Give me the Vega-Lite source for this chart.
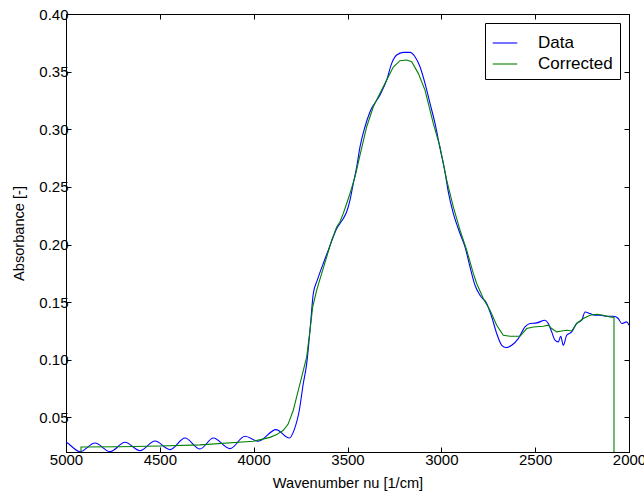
{
  "$schema": "https://vega.github.io/schema/vega-lite/v6.json",
  "width": 563,
  "height": 438,
  "autosize": {"type": "none"},
  "padding": {"left": 66, "top": 14, "right": 15, "bottom": 41},
  "background": "white",
  "config": {
    "font": "Liberation Sans",
    "view": {"stroke": "black", "strokeWidth": 1},
    "axis": {
      "grid": false,
      "domainColor": "black",
      "tickColor": "black",
      "labelColor": "black",
      "titleColor": "black",
      "labelFont": "Liberation Sans",
      "titleFont": "Liberation Sans",
      "labelFontSize": 15,
      "titleFontSize": 14.6,
      "titleFontWeight": "normal",
      "tickSize": -5,
      "labelFlush": false,
      "labelOverlap": false
    },
    "legend": {
      "labelFont": "Liberation Sans",
      "labelFontSize": 17,
      "labelColor": "black"
    }
  },
  "datasets": {
    "blue": [
      {"nu": 5000, "a": 0.0285, "s": "Data"},
      {"nu": 4996.3, "a": 0.0282, "s": "Data"},
      {"nu": 4925.4, "a": 0.0203, "s": "Data"},
      {"nu": 4845.5, "a": 0.0278, "s": "Data"},
      {"nu": 4765.5, "a": 0.0203, "s": "Data"},
      {"nu": 4685.6, "a": 0.0284, "s": "Data"},
      {"nu": 4605.7, "a": 0.0212, "s": "Data"},
      {"nu": 4525.8, "a": 0.0295, "s": "Data"},
      {"nu": 4445.8, "a": 0.0221, "s": "Data"},
      {"nu": 4365.9, "a": 0.0321, "s": "Data"},
      {"nu": 4286.0, "a": 0.0226, "s": "Data"},
      {"nu": 4215.1, "a": 0.0321, "s": "Data"},
      {"nu": 4126.1, "a": 0.0229, "s": "Data"},
      {"nu": 4046.2, "a": 0.0336, "s": "Data"},
      {"nu": 3975.3, "a": 0.0293, "s": "Data"},
      {"nu": 3881.0, "a": 0.0394, "s": "Data"},
      {"nu": 3810.1, "a": 0.0321, "s": "Data"},
      {"nu": 3785.1, "a": 0.0388, "s": "Data"},
      {"nu": 3756.8, "a": 0.0562, "s": "Data"},
      {"nu": 3735.5, "a": 0.0794, "s": "Data"},
      {"nu": 3717.4, "a": 0.0967, "s": "Data"},
      {"nu": 3699.8, "a": 0.1256, "s": "Data"},
      {"nu": 3682.2, "a": 0.1575, "s": "Data"},
      {"nu": 3660.9, "a": 0.1691, "s": "Data"},
      {"nu": 3628.9, "a": 0.1836, "s": "Data"},
      {"nu": 3602.3, "a": 0.1951, "s": "Data"},
      {"nu": 3575.6, "a": 0.2067, "s": "Data"},
      {"nu": 3557.5, "a": 0.2139, "s": "Data"},
      {"nu": 3539.9, "a": 0.2183, "s": "Data"},
      {"nu": 3522.4, "a": 0.2226, "s": "Data"},
      {"nu": 3504.3, "a": 0.2284, "s": "Data"},
      {"nu": 3486.7, "a": 0.2385, "s": "Data"},
      {"nu": 3469.1, "a": 0.2530, "s": "Data"},
      {"nu": 3451.0, "a": 0.2674, "s": "Data"},
      {"nu": 3433.4, "a": 0.2848, "s": "Data"},
      {"nu": 3406.8, "a": 0.3022, "s": "Data"},
      {"nu": 3380.1, "a": 0.3152, "s": "Data"},
      {"nu": 3326.9, "a": 0.3297, "s": "Data"},
      {"nu": 3291.2, "a": 0.3427, "s": "Data"},
      {"nu": 3264.5, "a": 0.3572, "s": "Data"},
      {"nu": 3237.9, "a": 0.3644, "s": "Data"},
      {"nu": 3202.7, "a": 0.3667, "s": "Data"},
      {"nu": 3166.9, "a": 0.3667, "s": "Data"},
      {"nu": 3140.3, "a": 0.3629, "s": "Data"},
      {"nu": 3113.7, "a": 0.3542, "s": "Data"},
      {"nu": 3087.0, "a": 0.3398, "s": "Data"},
      {"nu": 3060.4, "a": 0.3225, "s": "Data"},
      {"nu": 3033.7, "a": 0.3051, "s": "Data"},
      {"nu": 3007.1, "a": 0.2837, "s": "Data"},
      {"nu": 2980.5, "a": 0.2628, "s": "Data"},
      {"nu": 2962.9, "a": 0.2457, "s": "Data"},
      {"nu": 2936.2, "a": 0.2270, "s": "Data"},
      {"nu": 2900.5, "a": 0.2096, "s": "Data"},
      {"nu": 2873.9, "a": 0.1980, "s": "Data"},
      {"nu": 2847.2, "a": 0.1806, "s": "Data"},
      {"nu": 2820.6, "a": 0.1647, "s": "Data"},
      {"nu": 2794.0, "a": 0.1560, "s": "Data"},
      {"nu": 2758.3, "a": 0.1488, "s": "Data"},
      {"nu": 2731.6, "a": 0.1372, "s": "Data"},
      {"nu": 2705.0, "a": 0.1228, "s": "Data"},
      {"nu": 2678.3, "a": 0.1126, "s": "Data"},
      {"nu": 2655.4, "a": 0.1106, "s": "Data"},
      {"nu": 2625.0, "a": 0.1126, "s": "Data"},
      {"nu": 2589.9, "a": 0.1184, "s": "Data"},
      {"nu": 2554.2, "a": 0.1285, "s": "Data"},
      {"nu": 2527.5, "a": 0.1315, "s": "Data"},
      {"nu": 2491.8, "a": 0.1320, "s": "Data"},
      {"nu": 2447.6, "a": 0.1343, "s": "Data"},
      {"nu": 2430.0, "a": 0.1315, "s": "Data"},
      {"nu": 2411.9, "a": 0.1242, "s": "Data"},
      {"nu": 2394.3, "a": 0.1170, "s": "Data"},
      {"nu": 2376.7, "a": 0.1155, "s": "Data"},
      {"nu": 2363.9, "a": 0.1204, "s": "Data"},
      {"nu": 2350.0, "a": 0.1126, "s": "Data"},
      {"nu": 2331.9, "a": 0.1213, "s": "Data"},
      {"nu": 2305.3, "a": 0.1242, "s": "Data"},
      {"nu": 2278.7, "a": 0.1315, "s": "Data"},
      {"nu": 2252.0, "a": 0.1343, "s": "Data"},
      {"nu": 2234.4, "a": 0.1415, "s": "Data"},
      {"nu": 2207.8, "a": 0.1401, "s": "Data"},
      {"nu": 2181.2, "a": 0.1387, "s": "Data"},
      {"nu": 2154.5, "a": 0.1387, "s": "Data"},
      {"nu": 2118.8, "a": 0.1378, "s": "Data"},
      {"nu": 2083.7, "a": 0.1378, "s": "Data"},
      {"nu": 2057.0, "a": 0.1358, "s": "Data"},
      {"nu": 2038.9, "a": 0.1315, "s": "Data"},
      {"nu": 2012.3, "a": 0.1329, "s": "Data"},
      {"nu": 2000.0, "a": 0.1300, "s": "Data"}
    ],
    "green": [
      {"i": 0, "nu": 4920.1, "a": 0.0, "s": "Corrected"},
      {"i": 1, "nu": 4920.1, "a": 0.0243, "s": "Corrected"},
      {"i": 2, "nu": 4712.3, "a": 0.0245, "s": "Corrected"},
      {"i": 3, "nu": 4499.1, "a": 0.0252, "s": "Corrected"},
      {"i": 4, "nu": 4286.0, "a": 0.0262, "s": "Corrected"},
      {"i": 5, "nu": 4001.9, "a": 0.0293, "s": "Corrected"},
      {"i": 6, "nu": 3913.0, "a": 0.0327, "s": "Corrected"},
      {"i": 7, "nu": 3877.3, "a": 0.0351, "s": "Corrected"},
      {"i": 8, "nu": 3842.2, "a": 0.0388, "s": "Corrected"},
      {"i": 9, "nu": 3817.1, "a": 0.0440, "s": "Corrected"},
      {"i": 10, "nu": 3788.8, "a": 0.0562, "s": "Corrected"},
      {"i": 11, "nu": 3769.1, "a": 0.0692, "s": "Corrected"},
      {"i": 12, "nu": 3744.0, "a": 0.0851, "s": "Corrected"},
      {"i": 13, "nu": 3717.4, "a": 0.1025, "s": "Corrected"},
      {"i": 14, "nu": 3699.8, "a": 0.1256, "s": "Corrected"},
      {"i": 15, "nu": 3685.4, "a": 0.1459, "s": "Corrected"},
      {"i": 16, "nu": 3664.1, "a": 0.1604, "s": "Corrected"},
      {"i": 17, "nu": 3637.5, "a": 0.1749, "s": "Corrected"},
      {"i": 18, "nu": 3610.8, "a": 0.1893, "s": "Corrected"},
      {"i": 19, "nu": 3584.2, "a": 0.2038, "s": "Corrected"},
      {"i": 20, "nu": 3557.5, "a": 0.2153, "s": "Corrected"},
      {"i": 21, "nu": 3539.9, "a": 0.2197, "s": "Corrected"},
      {"i": 22, "nu": 3522.4, "a": 0.2270, "s": "Corrected"},
      {"i": 23, "nu": 3504.3, "a": 0.2356, "s": "Corrected"},
      {"i": 24, "nu": 3486.7, "a": 0.2443, "s": "Corrected"},
      {"i": 25, "nu": 3460.0, "a": 0.2587, "s": "Corrected"},
      {"i": 26, "nu": 3433.4, "a": 0.2776, "s": "Corrected"},
      {"i": 27, "nu": 3397.7, "a": 0.3022, "s": "Corrected"},
      {"i": 28, "nu": 3362.5, "a": 0.3195, "s": "Corrected"},
      {"i": 29, "nu": 3326.9, "a": 0.3312, "s": "Corrected"},
      {"i": 30, "nu": 3291.2, "a": 0.3427, "s": "Corrected"},
      {"i": 31, "nu": 3255.9, "a": 0.3540, "s": "Corrected"},
      {"i": 32, "nu": 3220.2, "a": 0.3595, "s": "Corrected"},
      {"i": 33, "nu": 3184.5, "a": 0.3601, "s": "Corrected"},
      {"i": 34, "nu": 3157.9, "a": 0.3586, "s": "Corrected"},
      {"i": 35, "nu": 3122.7, "a": 0.3485, "s": "Corrected"},
      {"i": 36, "nu": 3087.0, "a": 0.3340, "s": "Corrected"},
      {"i": 37, "nu": 3042.8, "a": 0.3051, "s": "Corrected"},
      {"i": 38, "nu": 3007.1, "a": 0.2848, "s": "Corrected"},
      {"i": 39, "nu": 2971.4, "a": 0.2559, "s": "Corrected"},
      {"i": 40, "nu": 2936.2, "a": 0.2327, "s": "Corrected"},
      {"i": 41, "nu": 2900.5, "a": 0.2125, "s": "Corrected"},
      {"i": 42, "nu": 2864.8, "a": 0.1951, "s": "Corrected"},
      {"i": 43, "nu": 2829.6, "a": 0.1749, "s": "Corrected"},
      {"i": 44, "nu": 2811.5, "a": 0.1662, "s": "Corrected"},
      {"i": 45, "nu": 2776.4, "a": 0.1532, "s": "Corrected"},
      {"i": 46, "nu": 2740.7, "a": 0.1430, "s": "Corrected"},
      {"i": 47, "nu": 2705.0, "a": 0.1300, "s": "Corrected"},
      {"i": 48, "nu": 2669.8, "a": 0.1213, "s": "Corrected"},
      {"i": 49, "nu": 2634.1, "a": 0.1204, "s": "Corrected"},
      {"i": 50, "nu": 2580.8, "a": 0.1204, "s": "Corrected"},
      {"i": 51, "nu": 2545.1, "a": 0.1271, "s": "Corrected"},
      {"i": 52, "nu": 2509.9, "a": 0.1285, "s": "Corrected"},
      {"i": 53, "nu": 2456.6, "a": 0.1291, "s": "Corrected"},
      {"i": 54, "nu": 2430.0, "a": 0.1300, "s": "Corrected"},
      {"i": 55, "nu": 2411.9, "a": 0.1271, "s": "Corrected"},
      {"i": 56, "nu": 2385.3, "a": 0.1242, "s": "Corrected"},
      {"i": 57, "nu": 2358.6, "a": 0.1250, "s": "Corrected"},
      {"i": 58, "nu": 2332.0, "a": 0.1256, "s": "Corrected"},
      {"i": 59, "nu": 2305.3, "a": 0.1250, "s": "Corrected"},
      {"i": 60, "nu": 2278.7, "a": 0.1315, "s": "Corrected"},
      {"i": 61, "nu": 2243.5, "a": 0.1358, "s": "Corrected"},
      {"i": 62, "nu": 2207.8, "a": 0.1387, "s": "Corrected"},
      {"i": 63, "nu": 2172.1, "a": 0.1395, "s": "Corrected"},
      {"i": 64, "nu": 2136.9, "a": 0.1387, "s": "Corrected"},
      {"i": 65, "nu": 2101.3, "a": 0.1372, "s": "Corrected"},
      {"i": 66, "nu": 2080.0, "a": 0.1367, "s": "Corrected"},
      {"i": 67, "nu": 2080.0, "a": 0.0, "s": "Corrected"}
    ]
  },
  "layer": [
    {
      "data": {"name": "blue"},
      "mark": {"type": "line", "interpolate": "monotone", "strokeWidth": 1.1, "clip": true},
      "encoding": {
        "x": {
          "field": "nu", "type": "quantitative",
          "scale": {"domain": [2000, 5000], "reverse": true, "nice": false, "zero": false},
          "axis": {"orient": "bottom", "values": [5000, 4500, 4000, 3500, 3000, 2500, 2000], "format": "d", "title": "Wavenumber nu [1/cm]", "labelPadding": 5, "titlePadding": 8}
        },
        "y": {
          "field": "a", "type": "quantitative",
          "scale": {"domain": [0.02, 0.40], "nice": false, "zero": false},
          "axis": {"orient": "left", "values": [0.05, 0.10, 0.15, 0.20, 0.25, 0.30, 0.35, 0.40], "format": ".2f", "title": "Absorbance [-]", "labelPadding": 3, "titlePadding": 12}
        },
        "color": {
          "field": "s", "type": "nominal",
          "scale": {"domain": ["Data", "Corrected"], "range": ["#0000ff", "#008000"]},
          "legend": {
            "title": null, "orient": "top-right", "offset": 9,
            "symbolType": "stroke", "symbolSize": 600, "symbolStrokeWidth": 1.1,
            "strokeColor": "black", "fillColor": "white", "padding": 7, "cornerRadius": 0,
            "labelOffset": 20, "rowPadding": 0
          }
        }
      }
    },
    {
      "data": {"name": "green"},
      "mark": {"type": "line", "strokeWidth": 1.1, "clip": true},
      "encoding": {
        "x": {
          "field": "nu", "type": "quantitative",
          "axis": {"orient": "top", "values": [5000, 4500, 4000, 3500, 3000, 2500, 2000], "labels": false, "title": null}
        },
        "y": {
          "field": "a", "type": "quantitative",
          "axis": {"orient": "right", "values": [0.05, 0.10, 0.15, 0.20, 0.25, 0.30, 0.35, 0.40], "labels": false, "title": null}
        },
        "order": {"field": "i", "type": "quantitative"},
        "color": {"field": "s", "type": "nominal"}
      }
    }
  ],
  "resolve": {"axis": {"x": "independent", "y": "independent"}}
}
